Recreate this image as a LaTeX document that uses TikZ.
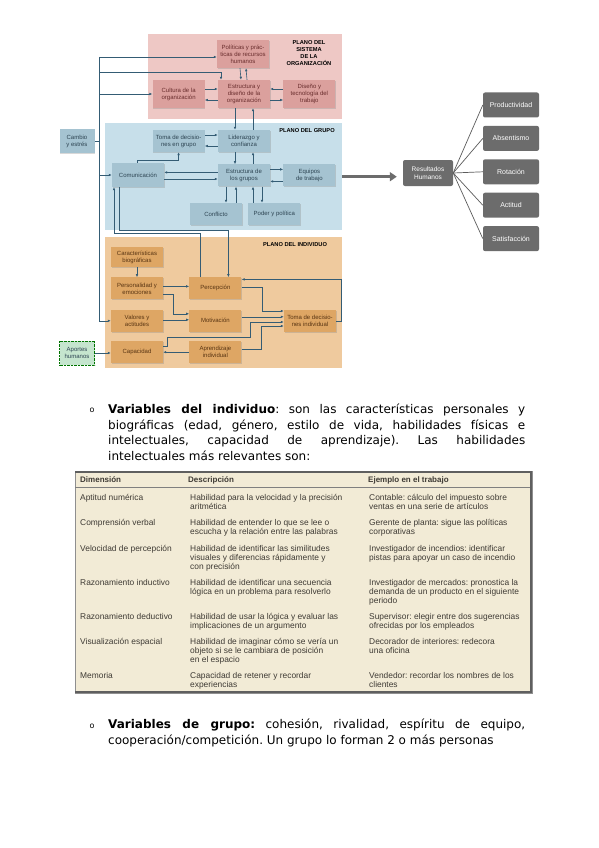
\documentclass[tikz,border=0pt]{standalone}
\usepackage{fontspec}
\setmainfont{DejaVu Sans}
\newfontfamily\diagfont{Liberation Sans}
\newfontfamily\tabfont{Liberation Sans}
\usepackage{xcolor}
\usetikzlibrary{arrows.meta, positioning, shadows}
\frenchspacing

\definecolor{orgplane}{RGB}{238,200,197}
\definecolor{orgbox}{RGB}{219,160,157}
\definecolor{orgtext}{RGB}{105,45,45}
\definecolor{grpplane}{RGB}{199,223,234}
\definecolor{grpbox}{RGB}{165,195,209}
\definecolor{grptext}{RGB}{45,68,82}
\definecolor{indplane}{RGB}{239,202,158}
\definecolor{indbox}{RGB}{222,166,100}
\definecolor{indtext}{RGB}{88,52,18}
\definecolor{aportec}{RGB}{197,229,206}
\definecolor{linkc}{RGB}{52,92,116}
\definecolor{resc}{RGB}{108,108,108}
\definecolor{tabbg}{RGB}{242,235,214}
\definecolor{tabedge}{RGB}{95,95,95}
\definecolor{tabtext}{RGB}{62,58,52}

\begin{document}
\begin{tikzpicture}[
  x=1pt, y=-1pt,
  font=\diagfont\fontsize{6}{7}\selectfont,
  plane/.style={anchor=north west, inner sep=0pt},
  plabel/.style={font=\diagfont\bfseries\fontsize{5.7}{6.9}\selectfont, align=center, inner sep=0pt},
  dbox/.style={align=center, inner sep=1pt, minimum width=52pt, minimum height=22pt,
    drop shadow={shadow xshift=0.8pt, shadow yshift=-0.8pt, opacity=.3}},
  obox/.style={dbox, fill=orgbox, text=orgtext, minimum height=28pt},
  gbox/.style={dbox, fill=grpbox, text=grptext},
  ibox/.style={dbox, fill=indbox, text=indtext},
  abox/.style={align=center, inner sep=1pt, minimum width=35pt, minimum height=24pt,
    fill=aportec, draw=green!45!black, densely dotted, text=grptext},
  link/.style={draw=linkc, line width=0.6pt, -{Latex[length=3pt,width=2.6pt]}},
  big/.style={draw=resc, line width=2.6pt, -{Triangle[length=7pt,width=9pt]}},
  rbox/.style={fill=resc, text=white, rounded corners=2pt, minimum width=56pt, minimum height=25pt,
    inner sep=1pt, align=center, font=\diagfont\fontsize{7}{8}\selectfont},
  fan/.style={draw=resc!85!black, line width=0.7pt},
  para/.style={anchor=north west, inner sep=0pt, text width=417pt, align=justify,
    font=\normalfont\fontsize{12}{15.4}\selectfont},
  thead/.style={anchor=north west, inner sep=0pt, text=tabtext, font=\tabfont\bfseries\fontsize{8}{9}\selectfont},
  cell/.style={anchor=north west, inner sep=0pt, align=left, text=tabtext, font=\tabfont\fontsize{8.4}{9}\selectfont}
]
\fill[white] (0,0) rectangle (599,848);
\useasboundingbox (0,0) rectangle (599,848);

% planes
\node[plane, fill=orgplane, minimum width=194pt, minimum height=85pt] (porg) at (148,34) {};
\node[plane, fill=grpplane, minimum width=237pt, minimum height=107pt] (pgrp) at (105,123) {};
\node[plane, fill=indplane, minimum width=237pt, minimum height=131pt] (pind) at (105,237) {};
\node[plabel] (lorg) at (309,53) {PLANO DEL\\SISTEMA\\DE LA\\ORGANIZACIÓN};
\node[plabel] (lgrp) at (307,131) {PLANO DEL GRUPO};
\node[plabel] (lind) at (295,245) {PLANO DEL INDIVIDUO};

% organizacion
\node[obox] (pol) at (243,54) {Políticas y prác-\\ticas de recursos\\humanos};
\node[obox] (estorg) at (244,94) {Estructura y\\diseño de la\\organización};
\node[obox, left=13pt of estorg] (cul) {Cultura de la\\organización};
\node[obox, right=13pt of estorg] (dis) {Diseño y\\tecnología del\\trabajo};

% grupo
\node[gbox] (lid) at (244,141) {Liderazgo y\\confianza};
\node[gbox, left=13pt of lid] (tgr) {Toma de decisio-\\nes en grupo};
\node[gbox, below=12pt of lid] (estg) {Estructura de\\los grupos};
\node[gbox, right=13pt of estg] (equ) {Equipos\\de trabajo};
\node[gbox, minimum height=24pt] (com) at (138,175) {Comunicación};
\node[gbox] (conf) at (216,214) {Conflicto};
\node[gbox, right=6pt of conf] (pod) {Poder y política};
\node[gbox, minimum width=35pt, minimum height=24pt] (cam) at (77,141) {Cambio\\y estrés};

% individuo
\node[ibox, minimum height=20pt] (car) at (137,257) {Características\\biográficas};
\node[ibox, below=10pt of car] (pers) {Personalidad y\\emociones};
\node[ibox, right=26pt of pers] (perc) {Percepción};
\node[ibox, below=10pt of pers] (val) {Valores y\\actitudes};
\node[ibox, right=26pt of val] (mot) {Motivación};
\node[ibox, below=9pt of val] (cap) {Capacidad};
\node[ibox, right=26pt of cap] (apr) {Aprendizaje\\individual};
\node[ibox] (tind) at (310,321) {Toma de decisio-\\nes individual};
\node[abox] (apo) at (77,353) {Aportes\\humanos};

\coordinate (bus) at (99,57);
\coordinate (bus2) at (99,72);

\draw[link] (bus) |- (val.west);
\draw[link] (bus) -- (bus -| pol.west);
\draw[link] (bus2) -| ([xshift=-23pt]estorg.north);
\draw[link] (bus |- cul.west) -- (cul.west);
\draw[link] ([xshift=-3pt]pol.south) -- ([xshift=-3pt]estorg.north);
\draw[link] ([xshift=3pt]estorg.north) -- ([xshift=3pt]pol.south);
\draw[link] ([yshift=5pt]cul.east) -- ([yshift=5pt]estorg.west);
\draw[link] ([yshift=-6pt]estorg.west) -- ([yshift=-6pt]cul.east);
\draw[link] ([yshift=5pt]dis.west) -- ([yshift=5pt]estorg.east);
\draw[link] ([yshift=-6pt]estorg.east) -- ([yshift=-6pt]dis.west);
\draw[link] ([xshift=-9pt]estorg.south) -- ([xshift=-9pt]lid.north);
\draw[link] ([xshift=9pt]lid.north) -- ([xshift=9pt]estorg.south);

\draw[link, -] (cam.east) -- (bus |- cam.east);
\draw[link] (bus |- com.west) -- (com.west);
\draw[link] ([yshift=6pt]tgr.east) -- ([yshift=6pt]lid.west);
\draw[link] ([yshift=-5pt]lid.west) -- ([yshift=-5pt]tgr.east);
\draw[link] ([xshift=-9pt]lid.south) -- ([xshift=-9pt]estg.north);
\draw[link] ([xshift=9pt]estg.north) -- ([xshift=9pt]lid.south);
\draw[link] ([xshift=-1pt]com.north) -- ++(0pt,3pt) -| (tgr.south);
\draw[link] ([yshift=3pt]estg.west) -- ([yshift=3pt]estg.west -| com.east);
\draw[link] ([yshift=-4pt]com.east) -- ([yshift=-4pt]com.east -| estg.west);
\draw[link] ([yshift=6pt]estg.east) -- ([yshift=6pt]equ.west);
\draw[link] ([yshift=-6pt]equ.west) -- ([yshift=-6pt]estg.east);
\draw[link] ([xshift=-18pt]estg.south) -- ([xshift=-18pt]estg.south |- conf.north);
\draw[link] ([xshift=-8pt]estg.south |- conf.north) -- ([xshift=-8pt]estg.south);
\draw[link] ([xshift=9pt]estg.south |- pod.north) -- ([xshift=9pt]estg.south);
\draw[link] ([xshift=18pt]estg.south) -- ([xshift=18pt]estg.south |- pod.north);
\draw[link] ([xshift=-15pt]perc.north) -- ++(0pt,44pt) -| ([xshift=-24pt]com.south);
\draw[link] ([xshift=-19pt]com.south) -- ++(0pt,-43pt) -| ([xshift=13pt]perc.north);

\draw[link] (car.south) -- (pers.north);
\draw[link] ([yshift=2pt]pers.east) -- ([yshift=2pt]perc.west);
\draw[link] ([yshift=-6pt]pers.east) -- ++(10pt,0pt) |- ([yshift=7pt]mot.west);
\draw[link] ([yshift=1pt]val.east) -- ([yshift=1pt]mot.west);
\draw[link] (apo.east) -- (apo.east -| cap.west);
\draw[link] (apr.west) -- (cap.east);
\draw[link] ([yshift=1pt]perc.east) -- ++(21pt,0pt) |- ([yshift=10pt]tind.west);
\draw[link] ([yshift=4pt]mot.east) -- ([yshift=4pt]mot.east -| tind.west);
\draw[link] ([yshift=6pt]cap.east) -- ++(4pt,0pt) -- ++(0pt,9pt) -- ++(83pt,0pt) |- ([yshift=-1pt]tind.west);
\draw[link] ([yshift=3pt]apr.east) -- ++(20pt,0pt) |- ([yshift=-5pt]tind.west);
\draw[link] (tind.east) -- ++(5pt,0pt) |- ([yshift=9pt]perc.east);

% resultados
\node[rbox, minimum width=50pt, minimum height=26pt, font=\diagfont\fontsize{6.5}{7.5}\selectfont] (res) at (428,173) {Resultados\\Humanos};
\node[rbox] (prod) at (511,105) {Productividad};
\node[rbox, below=8pt of prod] (abs) {Absentismo};
\node[rbox, below=8pt of abs] (rot) {Rotación};
\node[rbox, below=8pt of rot] (act) {Actitud};
\node[rbox, below=8pt of act] (sat) {Satisfacción};
\draw[big] (pgrp.east) -- ([xshift=-6pt]res.west |- pgrp.east);
\foreach \n in {prod,abs,rot,act,sat}
  \draw[fan] (res.east) -- (\n.west);

% texto
\node[inner sep=0pt, font=\normalfont\fontsize{8}{8}\selectfont] (bul1) at (92,410) {o};
\node[para] (txt1) at (108,404) {\textbf{Variables del individuo}: son las características personales y\linebreak
biográficas (edad, género, estilo de vida, habilidades físicas e\linebreak
intelectuales, capacidad de aprendizaje). Las habilidades\linebreak
intelectuales más relevantes son:};

% tabla
\fill[tabbg] (75,471) rectangle (532,693);
\draw[tabedge!70, line width=0.5pt] (75,471) rectangle (532,693);
\draw[tabedge, line width=2pt] (75,472) -- (532,472);
\draw[tabedge, line width=2.5pt] (530.8,471) -- (530.8,691.8) -- (75,691.8);
\draw[tabedge!80, line width=0.7pt] (75,487) -- (530,487);
\node[thead] (h1) at (80,476.5) {Dimensión};
\node[thead] (h2) at (188,476.5) {Descripción};
\node[thead] (h3) at (368,476.5) {Ejemplo en el trabajo};

\node[cell] (d1) at (80,494) {Aptitud numérica};
\node[cell] (e1) at (190,494) {Habilidad para la velocidad y la precisión\\aritmética};
\node[cell] (j1) at (369,494) {Contable: cálculo del impuesto sobre\\ventas en una serie de artículos};
\node[cell] (d2) at (80,519) {Comprensión verbal};
\node[cell] (e2) at (190,519) {Habilidad de entender lo que se lee o\\escucha y la relación entre las palabras};
\node[cell] (j2) at (369,519) {Gerente de planta: sigue las políticas\\corporativas};
\node[cell] (d3) at (80,545) {Velocidad de percepción};
\node[cell] (e3) at (190,545) {Habilidad de identificar las similitudes\\visuales y diferencias rápidamente y\\con precisión};
\node[cell] (j3) at (369,545) {Investigador de incendios: identificar\\pistas para apoyar un caso de incendio};
\node[cell] (d4) at (80,579) {Razonamiento inductivo};
\node[cell] (e4) at (190,579) {Habilidad de identificar una secuencia\\lógica en un problema para resolverlo};
\node[cell] (j4) at (369,579) {Investigador de mercados: pronostica la\\demanda de un producto en el siguiente\\periodo};
\node[cell] (d5) at (80,613) {Razonamiento deductivo};
\node[cell] (e5) at (190,613) {Habilidad de usar la lógica y evaluar las\\implicaciones de un argumento};
\node[cell] (j5) at (369,613) {Supervisor: elegir entre dos sugerencias\\ofrecidas por los empleados};
\node[cell] (d6) at (80,638) {Visualización espacial};
\node[cell] (e6) at (190,638) {Habilidad de imaginar cómo se vería un\\objeto si se le cambiara de posición\\en el espacio};
\node[cell] (j6) at (369,638) {Decorador de interiores: redecora\\una oficina};
\node[cell] (d7) at (80,672) {Memoria};
\node[cell] (e7) at (190,672) {Capacidad de retener y recordar\\experiencias};
\node[cell] (j7) at (369,672) {Vendedor: recordar los nombres de los\\clientes};

\node[inner sep=0pt, font=\normalfont\fontsize{8}{8}\selectfont] (bul2) at (92,726) {o};
\node[para] (txt2) at (108,719) {\parfillskip=0pt \textbf{Variables de grupo:} cohesión, rivalidad, espíritu de equipo,\linebreak
cooperación/competición. Un grupo lo forman 2 o más personas};
\end{tikzpicture}
\end{document}
